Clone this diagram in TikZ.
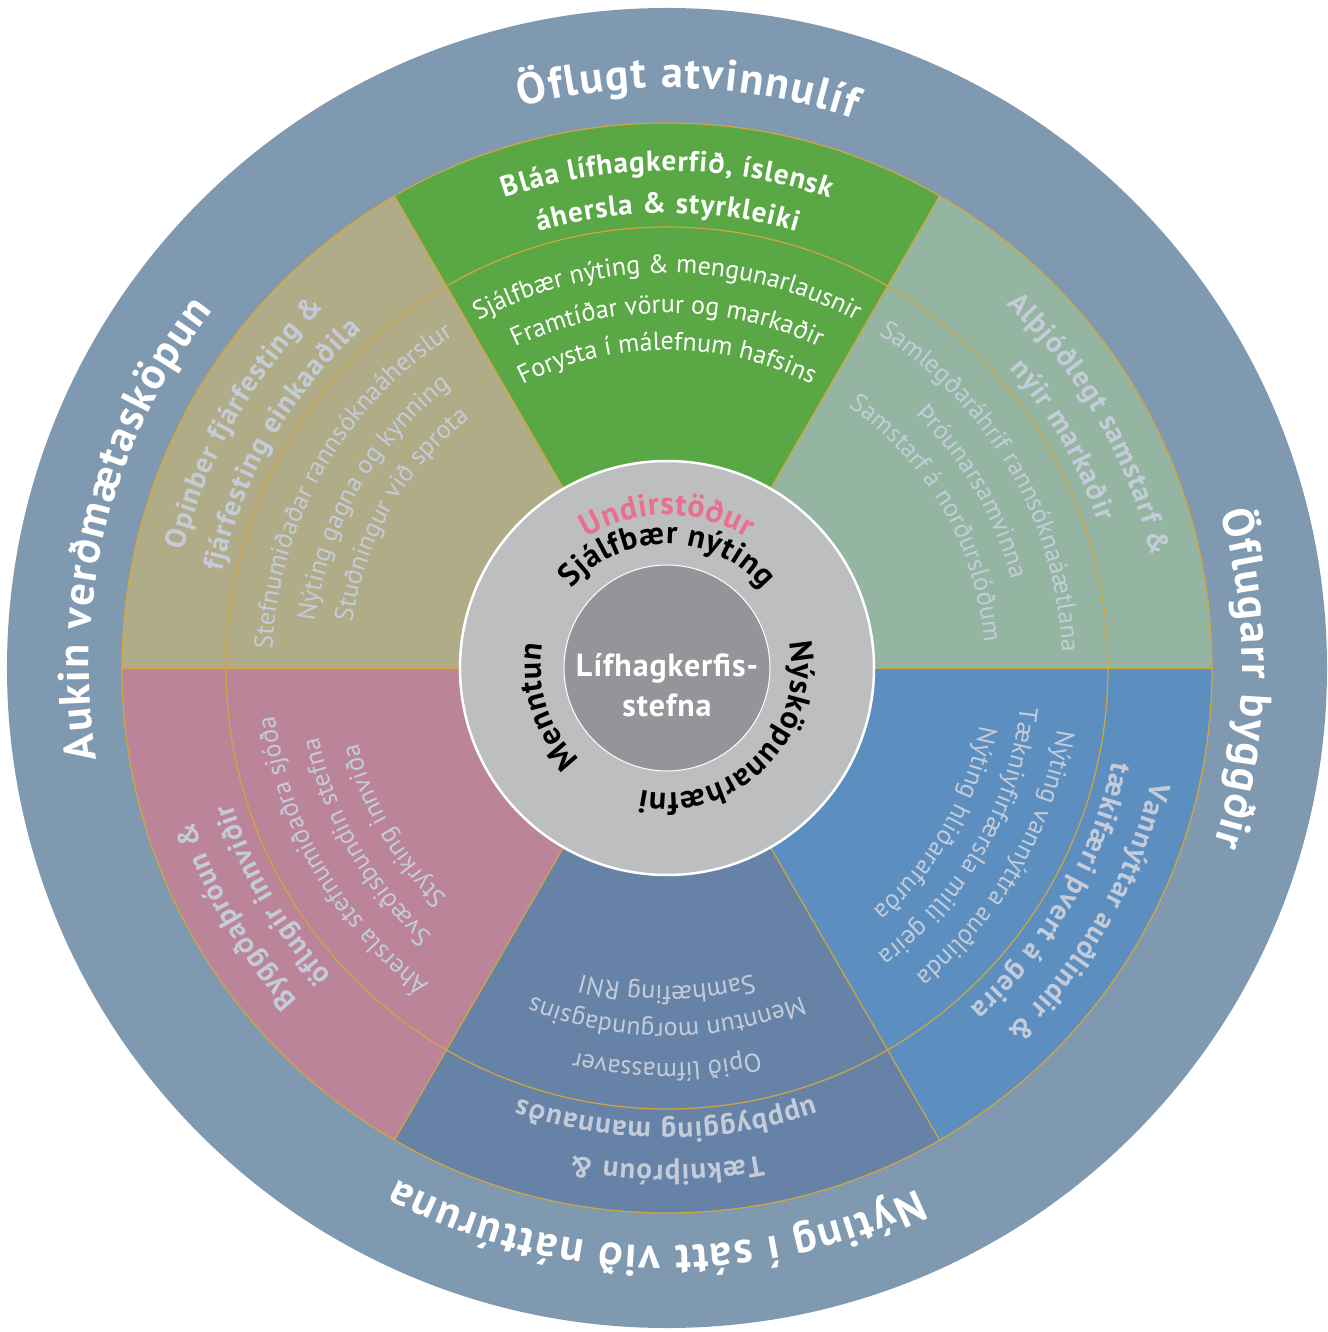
\documentclass[tikz,border=0pt]{standalone}
\usepackage{fontspec}
\setmainfont{PT Sans}
\newfontfamily\lighttrack[LetterSpace=3]{PT Sans}
\usepackage{xcolor}
\usepackage{tikz}
\usetikzlibrary{decorations.text}
\usetikzlibrary{positioning}

\definecolor{ringslate}{RGB}{127,153,177}
\definecolor{leafgreen}{RGB}{90,168,69}
\definecolor{olivegrey}{RGB}{177,172,136}
\definecolor{sagegreen}{RGB}{148,181,161}
\definecolor{seablue}{RGB}{92,143,191}
\definecolor{duskblue}{RGB}{102,131,167}
\definecolor{rosepink}{RGB}{187,132,153}
\definecolor{hubgrey}{RGB}{189,190,192}
\definecolor{coregrey}{RGB}{147,149,152}
\definecolor{goldline}{RGB}{210,166,62}
\definecolor{fadetext}{RGB}{196,204,218}
\definecolor{pinktext}{RGB}{232,112,142}

\newcommand{\ringfont}{\fontsize{44}{50}\selectfont\bfseries\kern1.7pt}
\newcommand{\headfont}{\fontsize{29}{34}\selectfont\bfseries\kern1pt}
\newcommand{\bodyfont}{\fontsize{26}{30}\selectfont}
\newcommand{\hubfont}{\fontsize{32}{36}\selectfont\bfseries\kern0.6pt}

% text bent clockwise round the centre: mid angle, half span, radius, text
\newcommand{\bendtext}[4]{%
  \path[decorate,decoration={text along path,text align=center,text={#4}}]
    ({#1+#2}:#3) arc[start angle={#1+#2},end angle={#1-#2},radius=#3pt];}

\begin{document}
\begin{tikzpicture}[x=1pt,y=1pt,
  sepline/.style={draw=goldline,line width=1.2pt},
  corelabel/.style={anchor=base,text=white,font=\lighttrack\fontsize{32}{36}\selectfont\bfseries}]
\useasboundingbox (-667,-664) rectangle (660,668);
% outer ring
\fill[ringslate] (0,0) circle (660);
% sectors
\foreach \a/\col in {0/sagegreen,60/leafgreen,120/olivegrey,180/rosepink,240/duskblue,300/seablue}
  \fill[\col] (0,0) -- (\a:545) arc[start angle=\a,delta angle=60,radius=545pt] -- cycle;
\foreach \a in {0,60,...,300}
  \draw[sepline] (\a:207) -- (\a:545);
\draw[sepline] (0,0) circle (545);
\draw[sepline] (0,0) circle (441);
% hub
\draw[white,line width=2.5pt,fill=hubgrey] (0,0) circle (207);
\draw[white,line width=1pt,fill=coregrey] (0,0) circle (103);
\node (core1) [corelabel] at (0,-9) {Lífhagkerfis-};
\node (core2) [corelabel] at (0,-49) {stefna};
\bendtext{90}{60}{153}{|\hubfont\color{pinktext}|Undirstöður}
\bendtext{90}{70}{124}{|\hubfont|Sjálfbær nýting}
\bendtext{-45}{80}{125}{|\hubfont|Nýsköpunarhæfni}
\bendtext{198}{60}{126}{|\hubfont|Menntun}
% outer ring texts
\bendtext{88}{60}{580}{|\ringfont\color{white}|Öflugt atvinnulíf}
\bendtext{-1}{60}{575}{|\ringfont\color{white}|Öflugarr byggðir}
\bendtext{269}{60}{578}{|\ringfont\color{white}|Nýting í sátt við náttúruna}
\bendtext{165.5}{60}{578}{|\ringfont\color{white}|Aukin verðmætasköpun}
% green sector
\bendtext{90}{45}{497}{|\headfont\color{white}|Bláa lífhagkerfið, íslensk}
\bendtext{90}{45}{455}{|\headfont\color{white}|áhersla {\&} styrkleiki}
\bendtext{90}{45}{395}{|\bodyfont\color{white}|Sjálfbær nýting {\&} mengunarlausnir}
\bendtext{90}{45}{355}{|\bodyfont\color{white}|Framtíðar vörur og markaðir}
\bendtext{90}{45}{318}{|\bodyfont\color{white}|Forysta í málefnum hafsins}
% sage sector
\bendtext{30}{45}{497}{|\headfont\color{fadetext}|Alþjóðlegt samstarf {\&}}
\bendtext{30}{45}{455}{|\headfont\color{fadetext}|nýir markaðir}
\bendtext{30}{45}{395}{|\bodyfont\color{fadetext}|Samlegðaráhrif rannsóknaáætlana}
\bendtext{30}{45}{355}{|\bodyfont\color{fadetext}|Þróunarsamvinna}
\bendtext{30}{45}{318}{|\bodyfont\color{fadetext}|Samstarf á norðurslóðum}
% blue sector
\bendtext{330}{45}{497}{|\headfont\color{fadetext}|Vannýttar auðlindir {\&}}
\bendtext{330}{45}{455}{|\headfont\color{fadetext}|tækifæri þvert á geira}
\bendtext{330}{45}{395}{|\bodyfont\color{fadetext}|Nýting vannýttra auðlinda}
\bendtext{330}{45}{355}{|\bodyfont\color{fadetext}|Tækniyfirfærsla milli geira}
\bendtext{330}{45}{318}{|\bodyfont\color{fadetext}|Nýting hliðarafurða}
% slate sector
\bendtext{270}{45}{497}{|\headfont\color{fadetext}|Tækniþróun {\&}}
\bendtext{270}{45}{455}{|\headfont\color{fadetext}|uppbygging mannauðs}
\bendtext{270}{45}{395}{|\bodyfont\color{fadetext}|Opið lífmassaver}
\bendtext{270}{45}{355}{|\bodyfont\color{fadetext}|Menntun morgundagsins}
\bendtext{270}{45}{318}{|\bodyfont\color{fadetext}|Samhæfing RNI}
% pink sector
\bendtext{210}{45}{497}{|\headfont\color{fadetext}|Byggðaþróun {\&}}
\bendtext{210}{45}{455}{|\headfont\color{fadetext}|öflugir innviðir}
\bendtext{210}{45}{395}{|\bodyfont\color{fadetext}|Áhersla stefnumiðaðra sjóða}
\bendtext{210}{45}{355}{|\bodyfont\color{fadetext}|Svæðisbundin stefna}
\bendtext{210}{45}{318}{|\bodyfont\color{fadetext}|Styrking innviða}
% olive sector
\bendtext{150}{45}{497}{|\headfont\color{fadetext}|Opinber fjárfesting {\&}}
\bendtext{150}{45}{455}{|\headfont\color{fadetext}|fjárfesting einkaaðila}
\bendtext{150}{45}{395}{|\bodyfont\color{fadetext}|Stefnumiðaðar rannsóknaáherslur}
\bendtext{150}{45}{355}{|\bodyfont\color{fadetext}|Nýting gagna og kynning}
\bendtext{150}{45}{318}{|\bodyfont\color{fadetext}|Stuðningur við sprota}
\end{tikzpicture}
\end{document}
